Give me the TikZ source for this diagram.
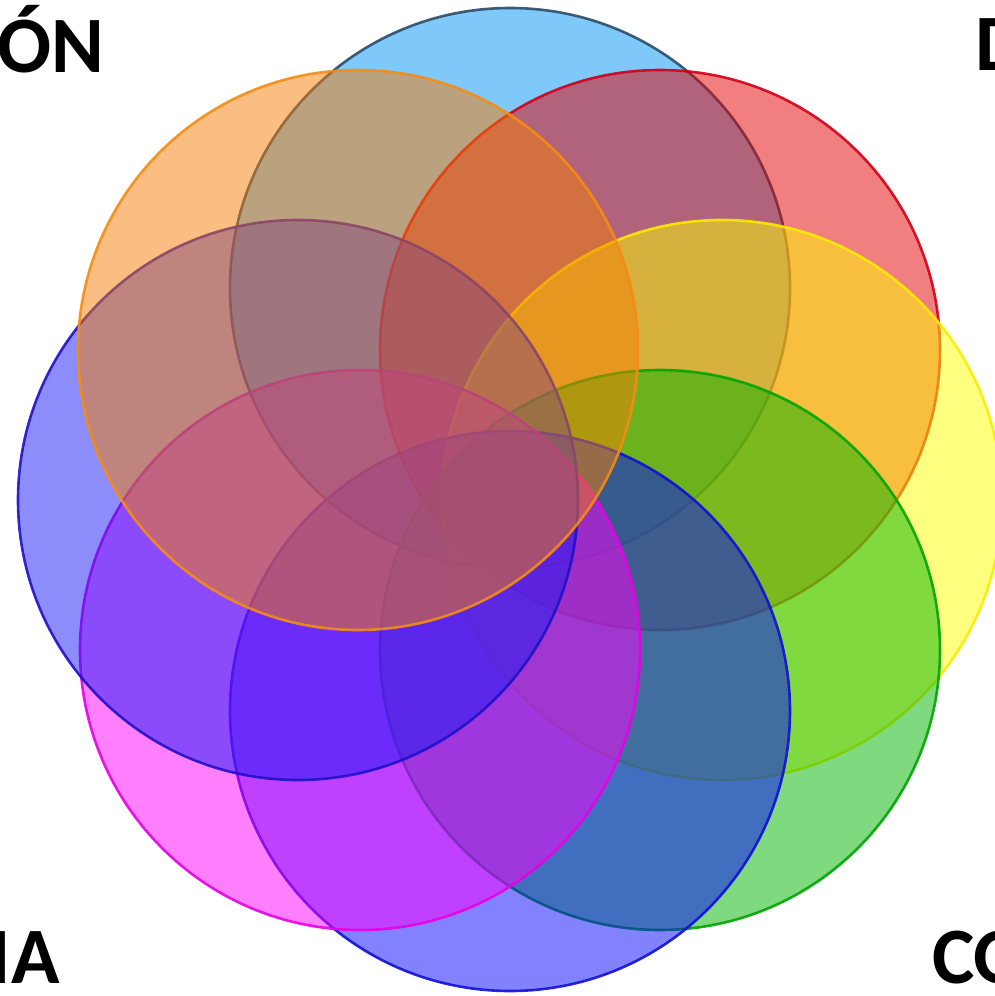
\documentclass[tikz,border=0pt]{standalone}
\usepackage{fontspec}
\setmainfont{Carlito}
\definecolor{cLB}{RGB}{0,145,245}\definecolor{sLB}{RGB}{45,75,105}
\definecolor{cR}{RGB}{228,0,0}\definecolor{sR}{RGB}{210,0,25}
\definecolor{cY}{RGB}{255,255,0}\definecolor{sY}{RGB}{250,235,0}
\definecolor{cG}{RGB}{0,180,0}\definecolor{sG}{RGB}{0,165,0}
\definecolor{cB}{RGB}{5,5,255}\definecolor{sB}{RGB}{15,15,215}
\definecolor{cM}{RGB}{255,0,255}\definecolor{sM}{RGB}{230,0,230}
\definecolor{cDB}{RGB}{25,25,245}\definecolor{sDB}{RGB}{35,15,200}
\definecolor{cO}{RGB}{245,125,5}\definecolor{sO}{RGB}{245,140,20}
\tikzset{
  ring/.style 2 args={draw=#2,fill=#1,fill opacity=0.5,draw opacity=0.9,line width=2.6pt},
  word/.style={font=\bfseries\fontsize{80}{80}\selectfont,inner sep=0pt,text=black}
}
\begin{document}
\begin{tikzpicture}[x=1pt,y=-1pt]
\useasboundingbox (0,0) rectangle (995,996);
\clip (0,0) rectangle (995,996);
\def\R{280}
\path[ring={cLB}{sLB}] (510,288) circle (\R);
\path[ring={cR}{sR}] (660,350) circle (\R);
\path[ring={cY}{sY}] (722,500) circle (\R);
\path[ring={cG}{sG}] (660,650) circle (\R);
\path[ring={cB}{sB}] (510,711) circle (\R);
\path[ring={cM}{sM}] (360,650) circle (\R);
\path[ring={cDB}{sDB}] (298,500) circle (\R);
\path[ring={cO}{sO}] (358,350) circle (\R);
\node[word,anchor=base east] (t1) at (104,72) {ÓN};
\node[word,anchor=base west] (t2) at (975,70) {D};
\node[word,anchor=base east] (t3) at (60,983) {IA};
\node[word,anchor=base west] (t4) at (932,983) {CO};
\end{tikzpicture}
\end{document}
